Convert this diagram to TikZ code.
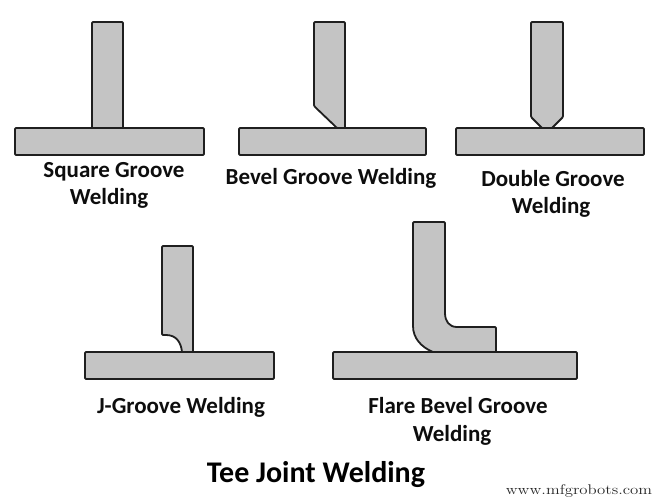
\documentclass[tikz,border=0pt]{standalone}
\usepackage{fontspec}
\setmainfont{Carlito}
\newfontfamily\wmfont[FakeStretch=1.2]{Latin Modern Roman}
\tikzset{
  part/.style={draw=black!88,fill=black!23,line width=1.8pt,rounded corners=1pt,line join=round},
  lab/.style={anchor=base,inner sep=0pt,font=\fontsize{23}{26}\selectfont\bfseries,text=black!95},
}
\begin{document}
\begin{tikzpicture}[x=1pt,y=-1pt]
\useasboundingbox (0,0) rectangle (663,500);
% Square groove
\draw[part] (92,128) -- (92,22) -- (123,22) -- (123,128);
\draw[part] (15,128) rectangle (204,155);
% Bevel groove
\draw[part] (337,128) -- (314,106) -- (314,22) -- (345,22) -- (345,128);
\draw[part] (239,128) rectangle (426,155);
% Double groove
\draw[part] (542,128) -- (531,117) -- (531,22) -- (563,22) -- (563,117) -- (552,128);
\draw[part] (456,128) rectangle (644,155);
% J groove
\draw[part] (182,352) .. controls (181,342) and (176,335) .. (165,335) -- (162,335) -- (162,246) -- (193,246) -- (193,352);
\draw[part] (85,352) rectangle (274,379);
% Flare bevel groove
\draw[part] (433,352) .. controls (421,347) and (413,338) .. (413,325) -- (413,222) -- (445,222) -- (445,312) .. controls (445,321) and (449,327) .. (458,327) -- (496,327) -- (496,352);
\draw[part] (333,352) rectangle (577,379);
% Labels
\node[lab] (sq1) at (114,177) {Square Groove};
\node[lab] (sq2) at (109,204) {Welding};
\node[lab] (bev) at (331,184) {Bevel Groove Welding};
\node[lab] (dbl1) at (553,186) {Double Groove};
\node[lab] (dbl2) at (551,213) {Welding};
\node[lab] (jg) at (181,413) {J-Groove Welding};
\node[lab] (fl1) at (458,413) {Flare Bevel Groove};
\node[lab] (fl2) at (452,441) {Welding};
\node[lab,font=\fontsize{30}{34}\selectfont\bfseries,text=black] (title) at (316,482) {Tee Joint Welding};
\node[anchor=base,inner sep=0pt,font=\wmfont\fontsize{14}{16}\selectfont,text=black!85] (wm) at (579,494) {www.mfgrobots.com};
\end{tikzpicture}
\end{document}
